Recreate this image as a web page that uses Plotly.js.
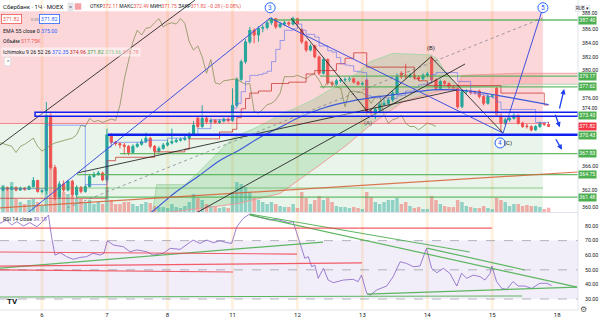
<!DOCTYPE html>
<html><head><meta charset="utf-8">
<script src="https://cdn.plot.ly/plotly-3.0.1.min.js"></script>
<style>html,body{margin:0;padding:0;background:#fff}#chart{width:600px;height:323px}</style>
</head><body><div id="chart"></div>
<script>
// ---------- DATA ----------
const firstIndex = -9; // first visible hourly candle, day "6" starts at 0
const open = [362.5,362.9,362.6,362.9,362.5,362.8,362.6,363.0,363.9,
362.3,362.4,373.5,365.8,361.5,363.4,362.5,363.8,361.8,362.9,362.3,363.0,364.5,364.8,365.0,
364.0,370.6,369.5,369.3,369.1,368.9,368.0,368.9,369.2,369.6,370.1,368.9,368.2,368.6,369.1,
369.4,369.6,369.8,369.9,370.1,370.6,373.0,371.8,373.0,372.5,372.7,372.4,372.6,372.9,372.7,
374.9,378.7,381.3,384.2,385.9,385.2,386.2,386.3,387.0,387.6,386.4,386.8,387.0,386.8,387.6,
386.0,384.2,383.0,383.6,382.0,379.6,381.6,378.2,378.0,378.5,378.6,378.7,378.8,378.3,378.0,
378.6,374.0,373.7,374.3,375.0,375.2,375.7,376.7,379.6,379.3,379.1,379.3,379.0,378.8,379.3,
381.8,378.6,377.4,378.4,378.1,377.6,377.4,374.7,376.9,377.0,376.8,377.0,376.2,375.2,376.2,
377.4,373.5,372.3,372.8,373.0,373.5,372.3,371.9,371.8,371.3,371.8,372.3,372.11];
const high = [363.1,363.0,363.1,363.0,363.0,362.9,363.2,364.4,364.0,
362.6,375.4,373.8,366.2,363.8,363.9,364.0,364.0,363.2,363.1,363.3,364.8,365.2,365.3,365.2,
371.5,370.8,369.7,369.5,369.4,369.1,369.2,369.5,370.0,370.9,370.3,369.1,368.9,369.4,369.8,
371.5,370.1,370.2,370.4,371.0,372.6,373.3,374.9,373.2,373.0,372.9,372.9,373.1,373.1,377.4,
379.0,381.6,384.6,386.4,386.2,386.5,386.7,387.3,387.8,387.7,387.1,387.3,387.2,387.9,387.7,
386.2,384.4,383.9,383.8,382.2,381.9,381.8,378.5,378.8,378.9,379.0,379.1,379.0,378.5,378.4,
378.8,374.3,374.6,375.3,375.8,376.0,377.0,379.6,379.9,381.0,379.6,379.5,379.3,379.6,379.8,
382.3,378.9,378.7,378.6,378.3,377.9,377.6,377.2,377.3,377.2,377.1,377.2,376.4,376.5,376.5,
377.6,373.8,373.1,373.3,373.8,373.6,372.5,372.2,372.0,372.0,372.5,372.4,372.49];
const low = [362.3,362.4,362.5,362.3,362.4,362.4,362.5,362.9,362.1,
362.0,361.9,365.5,361.0,361.2,362.2,362.3,361.5,361.3,362.0,362.1,362.9,364.3,364.6,363.8,
363.7,369.2,369.0,368.6,367.7,367.6,367.8,368.7,369.0,369.4,368.6,367.9,368.0,368.4,368.9,
369.2,369.4,369.6,369.7,369.9,370.4,371.5,371.6,372.2,372.3,372.2,372.2,372.4,372.4,372.5,
374.7,378.4,381.0,383.9,384.0,384.2,385.6,386.0,386.7,386.1,386.2,386.5,386.5,386.6,386.7,
383.9,382.7,382.8,381.8,379.3,379.4,377.9,377.6,377.8,378.2,378.3,378.4,378.1,377.8,377.8,
373.5,373.3,372.9,374.0,374.8,374.9,375.4,376.5,378.8,378.8,378.9,378.7,378.5,378.6,379.0,
378.3,377.1,377.2,377.8,377.3,377.1,374.4,374.5,376.6,376.5,376.5,375.9,374.9,375.0,376.0,
373.2,371.0,372.0,372.5,372.8,372.1,371.6,371.5,371.1,371.2,371.6,371.9,371.75];
const close = [362.9,362.6,362.9,362.5,362.8,362.6,363.0,363.9,362.3,
362.4,373.5,365.8,361.5,363.4,362.5,363.8,361.8,362.9,362.3,363.0,364.5,364.8,365.0,364.0,
370.6,369.5,369.3,369.1,368.9,368.0,368.9,369.2,369.6,370.1,368.9,368.2,368.6,369.1,369.4,
369.6,369.8,369.9,370.1,370.6,372.0,371.8,373.0,372.5,372.7,372.4,372.6,372.9,372.7,374.9,
378.7,381.3,384.2,385.9,385.2,386.2,386.3,387.0,387.6,386.4,386.8,387.0,386.8,387.6,386.9,
384.2,383.0,383.6,382.0,379.6,381.6,378.2,378.0,378.5,378.6,378.7,378.8,378.3,378.0,378.1,
374.0,373.7,374.3,375.0,375.2,375.7,376.7,379.1,379.1,379.1,379.3,379.0,378.8,379.3,379.5,
378.6,377.4,378.4,378.1,377.6,377.4,374.7,376.9,377.0,376.8,376.8,376.2,375.2,376.2,376.3,
373.5,372.3,372.8,373.0,373.5,372.3,371.8,371.8,371.3,371.8,372.3,372.11,371.82];
const volumeK = [3240,2640,3600,1560,1200,960,1440,1560,1200,
720,10560,5760,5040,3000,2400,2160,1920,1560,1560,1200,1440,960,1200,960,
3000,1440,960,960,1200,1200,960,720,960,1200,1080,720,600,600,480,
960,600,480,720,1200,2160,1680,1440,960,720,600,480,600,480,2400,
3600,3360,3000,2400,1680,1440,1200,960,1200,960,720,600,600,960,480,
2400,1680,960,1440,1920,1440,1680,1200,720,600,600,480,600,480,360,
2400,1800,1200,960,1200,1440,1440,1680,960,1200,720,480,600,360,360,
1920,1440,960,720,600,600,1440,1200,720,600,480,480,720,480,360,
1680,1440,1200,720,960,960,720,840,720,720,600,360,518];

const dayLabels = ['6','7','8','11','12','13','14','15','18'];
const dayStarts = [0,15,29,44,59,74,89,104,119];

// EMA 55
const emaIdx = [18,24.9,30.5,36.5,41,45.7,50,55,59.6,64,67.7,72,75.8,84,91.2,99,105.8,111,117];
const emaVal = [356.5,359.1,362.0,364.7,366.8,368.4,370.1,371.7,373.2,374.3,375.0,375.6,376.0,376.7,377.2,377.0,376.3,375.7,375.0];
// Ichimoku conversion (tenkan) and base (kijun) lines, step lines
const tenkanIdx = [-9.7,1,10,15,16,24,29,33,36,39,44,45,46,47,48,50,51,52,53,54,55,56,58,59,60,61,63,64,66,67,68,69,70,71,72,73,74,75,76,77,81,82,83,84,86,87,88,89,90,91,96,99,100,101,102,103,104,105,106,114,117];
const tenkanVal = [362.7,372.0,363.3,368.8,369.5,369.8,370.1,370.6,371.5,372.8,374.5,375.2,376.9,378.4,379.3,379.4,379.6,379.9,381.3,383.1,384.4,385.9,386.1,386.8,385.9,385.3,384.9,383.6,382.9,382.7,381.9,381.0,380.8,380.7,379.9,379.8,379.7,376.3,376.2,376.0,375.9,376.3,376.4,377.0,377.5,377.9,378.0,378.2,379.4,379.7,378.4,376.7,376.6,376.5,376.4,376.2,376.0,375.4,374.3,372.4,372.35];
const kijunIdx = [-9.7,15,17,26,33,34,41,44,45,46,47,48,50,53,57,61,63,68,70,72,75,86,87,89,106,116,117];
const kijunVal = [361.3,366.8,367.3,368.1,368.5,370.0,371.0,371.4,373.1,374.4,375.9,376.7,377.0,378.1,378.3,379.5,380.0,381.0,381.8,382.6,380.5,378.8,378.5,377.8,376.7,374.96,374.96];
// leading spans (already displaced forward)
const spanAIdx = [16,25.5,26.5,33,36,39.5,44,50,55,62,66,70.4,75.8,81,89.6,91.2,93.5,95.8,100,110,124];
const spanAVal = [359.0,359.0,363.3,363.3,365.0,367.2,370.1,371.8,373.5,375.5,377.0,378.4,381.3,382.5,382.3,381.8,379.5,377.6,377.6,378.0,378.0];
const spanBIdx = [16,30,45,55,64.2,70.4,75.8,83.5,91.2,95.8,97,110,124];
const spanBVal = [358.5,359.3,360.5,362.0,366.2,369.1,372.0,375.5,376.9,377.4,379.3,379.6,379.6];
const kumoTwist = 95.8;
const laggingShift = 26;

// RSI 14
const rsiIdx = [-9.7,-8.2,-7.0,-5.8,-4.3,-2.8,-1.2,-0.1,1.5,2.2,3.0,4.2,5.7,7.2,8.8,10.3,11.8,13.4,14.3,15.1,16.5,18.8,20.3,21.9,24.2,25.7,28.0,29.6,31.9,33.4,34.9,36.5,38.0,39.6,41.1,42.7,43.8,45.0,46.5,48.0,49.6,51.1,52.7,54.2,55.7,56.9,58.0,58.8,59.6,60.7,61.5,62.3,63.0,63.8,65.0,66.1,67.3,69.6,71.9,73.0,73.8,75.0,75.8,77.3,79.6,81.1,82.7,84.2,85.8,87.3,88.5,88.8,90.0,91.2,92.7,94.2,95.8,96.9,98.1,99.6,101.2,102.3,103.5,103.9,105.0,106.2,107.3,108.8,110.0,111.5,113.1,114.2,115.0,116.6,117.7];
const rsiVal = [81.8,84,80.7,83,80,82.3,79.5,82.3,87.5,72.7,60.1,61.7,59,57.2,58.5,59,61.3,60.1,61.3,69.9,67,65.8,62.4,63.6,62.4,60.1,61.3,64.7,64,67,70.4,68.1,70.4,68.6,69.9,68.6,68.1,79.5,85.3,88.2,86.4,85.3,84.1,84.6,83.6,82.3,83,75,68.1,57.9,59,52.1,53.3,44.2,51,43,41.2,43,43.5,41.9,46.4,33.9,32.7,36.2,38.9,45.3,55.5,54.4,52.1,52.6,63.6,64.7,51,48,51,47.6,38.9,47.6,44.2,46.4,45.3,43,47.6,52.6,41.9,37.3,36.6,41.9,38.9,38.9,37.3,39.6,40.8,40.8,39.18];
const rsiBands = [70,50,30];

// drawings on the price pane
const zoneEntry = 372.25, zoneTop = 388.7, zoneEnd = 115.7;
const greenLevels = [387.40,379.17,377.62,367.83,364.75,361.48];
const greenLevelFrom = [52.2,64.2,64.2,18,8.1,8.1];
const faintLevel = 362.8;
const boxLow = 373.3, boxHigh = 373.9, boxFrom = -1.6;
const blueLevel = 370.6, blueLevelFrom = 15.2;
const blackFrom = [[-9.7,369.1],[75.3,373.9],[57.5,387.7],[89.8,382.0],[34.9,358.9],[8.1,365.0]];
const blackTo   = [[35.3,390.3],[89.8,382.0],[75.3,373.9],[106.5,370.85],[97.7,380.96],[95.8,377.15]];
const waveFrom = [[-3.9,358.85],[52.7,387.7],[106.5,370.85]];
const waveTo   = [[52.7,387.7],[106.5,370.85],[115.7,389.2]];
const dottedLine = [[5.8,359.9],[115.7,387.7]];
const orangeLine = [[-9.7,359.9],[123.8,365.15]];
const waveMarks = [['3',52.7,389.2],['5',115.7,389.2],['4',105.8,369.4]];
// drawings on the RSI pane
const rsiGreenFrom = [[48.0,88.2],[48.0,87.5],[88.9,64.9],[-9.7,51.2],[75.1,33.4],[-9.7,31.4]];
const rsiGreenTo   = [[98.8,62.2],[123.6,38.2],[111.5,49.9],[64.9,69.0],[123.6,38.2],[110.9,32.1]];
const rsiRedFrom = [[-9.7,78.6],[-9.7,62.2],[-9.7,52.6],[-9.7,49.9]];
const rsiRedTo   = [[103.9,78.6],[58.9,60.8],[73.9,54.7],[44.1,48.5]];

// axis labels
const priceTicks = [386,384,382,380,376,366,360];
const priceTicksNearBadge = [388,374,362];
const rsiTicks = [80,70,60,50,40,30];
const priceBadges = [[387.40,'#4caf50'],[379.17,'#4caf50'],[377.62,'#4caf50'],[373.43,'#4caf50'],[371.82,'#f23645'],[370.43,'#4caf50'],[367.83,'#4caf50'],[364.75,'#4caf50'],[361.48,'#4caf50']];

// ---------- BUILD ----------
const idx = open.map((_, k) => k + firstIndex);
const X0 = -9.7, X1 = 123.8;
const W = 578, H = 310;
const px = x => x / W, py = y => 1 - y / H;

const GREEN = '#26a69a', RED = '#ef5350';
const traces = [];

// cloud fills (base axis y)
function seg(ix, iv, fn) { const a = [], b = []; ix.forEach((x, k) => { if (fn(x)) { a.push(x); b.push(iv[k]); } }); return [a, b]; }
const [gBx, gBy] = seg(spanBIdx, spanBVal, x => x <= kumoTwist);
const [gAx, gAy] = seg(spanAIdx, spanAVal, x => x <= kumoTwist);
const [rBx, rBy] = seg(spanBIdx, spanBVal, x => x >= kumoTwist);
const [rAx, rAy] = seg(spanAIdx, spanAVal, x => x >= kumoTwist);
traces.push({x: gBx, y: gBy, mode: 'lines', line: {width: 0}, yaxis: 'y', hoverinfo: 'skip'});
traces.push({x: gAx, y: gAy, mode: 'lines', line: {width: 0}, fill: 'tonexty', fillcolor: 'rgba(76,175,80,0.2)', yaxis: 'y', hoverinfo: 'skip'});
traces.push({x: rBx, y: rBy, mode: 'lines', line: {width: 0}, yaxis: 'y', hoverinfo: 'skip'});
traces.push({x: rAx, y: rAy, mode: 'lines', line: {width: 0}, fill: 'tonexty', fillcolor: 'rgba(242,54,69,0.18)', yaxis: 'y', hoverinfo: 'skip'});

// volume (overlay axis y3)
traces.push({type: 'bar', x: idx, y: volumeK, yaxis: 'y3', width: 0.8,
  marker: {color: idx.map((_, k) => close[k] >= open[k] ? 'rgba(38,166,154,0.45)' : 'rgba(239,83,80,0.45)'), line: {width: 0}}});

// indicator lines + candles (overlay axis y4)
traces.push({x: spanAIdx, y: spanAVal, mode: 'lines', line: {color: 'rgba(165,214,167,0.9)', width: 1}, yaxis: 'y4'});
traces.push({x: spanBIdx, y: spanBVal, mode: 'lines', line: {color: 'rgba(239,154,154,0.95)', width: 1}, yaxis: 'y4'});
traces.push({x: idx.map(v => v - laggingShift), y: close, mode: 'lines', line: {color: 'rgba(128,140,80,0.75)', width: 1}, yaxis: 'y4'});
traces.push({x: kijunIdx, y: kijunVal, mode: 'lines', line: {color: 'rgba(200,50,45,0.75)', width: 1, shape: 'hv'}, yaxis: 'y4'});
traces.push({x: tenkanIdx, y: tenkanVal, mode: 'lines', line: {color: 'rgba(90,110,240,0.6)', width: 1, shape: 'hv'}, yaxis: 'y4'});
traces.push({x: emaIdx, y: emaVal, mode: 'lines', line: {color: '#3f5ad8', width: 1.2, shape: 'spline'}, yaxis: 'y4'});
traces.push({type: 'candlestick', x: idx, open, high, low, close, yaxis: 'y4', whiskerwidth: 0,
  increasing: {line: {color: GREEN, width: 1}, fillcolor: GREEN},
  decreasing: {line: {color: RED, width: 1}, fillcolor: RED}});

// RSI
traces.push({x: rsiIdx, y: rsiVal, mode: 'lines', line: {color: 'rgba(126,87,194,0.75)', width: 1}, yaxis: 'y2'});

// ---------- SHAPES ----------
const shapes = [];
// day separators
dayStarts.slice(0, 8).forEach(d => shapes.push({type: 'rect', xref: 'x', yref: 'paper', x0: d - 0.35, x1: d + 0.35, y0: 0, y1: 1,
  fillcolor: 'rgba(255,152,0,0.13)', line: {width: 0}, layer: 'below'}));
// position zones
shapes.push({type: 'rect', xref: 'x', yref: 'y', x0: X0, x1: zoneEnd, y0: zoneEntry, y1: zoneTop, fillcolor: 'rgba(242,54,69,0.2)', line: {width: 0}, layer: 'below'});
shapes.push({type: 'rect', xref: 'x', yref: 'y', x0: X0, x1: zoneEnd, y0: 355, y1: zoneEntry, fillcolor: 'rgba(76,175,80,0.12)', line: {width: 0}, layer: 'below'});
shapes.push({type: 'line', xref: 'x', yref: 'y', x0: X0, x1: zoneEnd, y0: zoneEntry, y1: zoneEntry, line: {color: 'rgba(242,54,69,0.55)', width: 1}});
// green levels
greenLevels.forEach((v, k) => shapes.push({type: 'line', xref: 'x', yref: 'y', x0: greenLevelFrom[k], x1: X1, y0: v, y1: v, line: {color: 'rgba(76,175,80,0.85)', width: 1.3}}));
shapes.push({type: 'line', xref: 'x', yref: 'y', x0: X0, x1: zoneEnd, y0: faintLevel, y1: faintLevel, line: {color: 'rgba(76,175,80,0.6)', width: 1}});
// orange and dotted diagonal
shapes.push({type: 'line', xref: 'x', yref: 'y', x0: orangeLine[0][0], y0: orangeLine[0][1], x1: orangeLine[1][0], y1: orangeLine[1][1], line: {color: 'rgba(215,95,55,0.85)', width: 1.2}});
shapes.push({type: 'line', xref: 'x', yref: 'y', x0: dottedLine[0][0], y0: dottedLine[0][1], x1: dottedLine[1][0], y1: dottedLine[1][1], line: {color: 'rgba(120,123,134,0.7)', width: 1, dash: 'dot'}});
// black trend lines
blackFrom.forEach((p, k) => shapes.push({type: 'line', xref: 'x', yref: 'y', x0: p[0], y0: p[1], x1: blackTo[k][0], y1: blackTo[k][1], line: {color: 'rgba(30,30,30,0.85)', width: 1}}));
// wave lines
waveFrom.forEach((p, k) => shapes.push({type: 'line', xref: 'x', yref: 'y', x0: p[0], y0: p[1], x1: waveTo[k][0], y1: waveTo[k][1], line: {color: '#3f51e0', width: 1}}));
// blue box and level
shapes.push({type: 'rect', xref: 'x', yref: 'y', x0: boxFrom, x1: X1, y0: boxLow, y1: boxHigh, fillcolor: 'rgba(255,255,255,0.35)', line: {color: '#1020f0', width: 1.5}});
shapes.push({type: 'line', xref: 'x', yref: 'y', x0: blueLevelFrom, x1: X1, y0: blueLevel, y1: blueLevel, line: {color: '#1020f0', width: 2.5}});
// wave circles
waveMarks.forEach(m => shapes.push({type: 'circle', xref: 'x', yref: 'y', xsizemode: 'pixel', ysizemode: 'pixel', xanchor: m[1], yanchor: m[2],
  x0: -5, x1: 5, y0: -5, y1: 5, fillcolor: 'rgba(255,255,255,0.9)', line: {color: '#2962ff', width: 1}}));
// RSI band and guides
shapes.push({type: 'rect', xref: 'x', yref: 'y2', x0: X0, x1: X1, y0: 30, y1: 70, fillcolor: 'rgba(126,87,194,0.1)', line: {width: 0}, layer: 'below'});
rsiBands.forEach(v => shapes.push({type: 'line', xref: 'x', yref: 'y2', x0: X0, x1: X1, y0: v, y1: v, line: {color: 'rgba(120,123,134,0.55)', width: 1, dash: 'dash'}, layer: 'below'}));
rsiGreenFrom.forEach((p, k) => shapes.push({type: 'line', xref: 'x', yref: 'y2', x0: p[0], y0: p[1], x1: rsiGreenTo[k][0], y1: rsiGreenTo[k][1], line: {color: 'rgba(76,175,80,0.9)', width: 1.2}}));
rsiRedFrom.forEach((p, k) => shapes.push({type: 'line', xref: 'x', yref: 'y2', x0: p[0], y0: p[1], x1: rsiRedTo[k][0], y1: rsiRedTo[k][1], line: {color: 'rgba(242,54,69,0.8)', width: 1.2}}));
// pane separators
shapes.push({type: 'line', xref: 'paper', yref: 'paper', x0: 0, x1: 1, y0: py(212.5), y1: py(212.5), line: {color: '#e0e3eb', width: 1}});
shapes.push({type: 'line', xref: 'paper', yref: 'paper', x0: 0, x1: 1, y0: 0, y1: 0, line: {color: '#e0e3eb', width: 1}});
shapes.push({type: 'line', xref: 'paper', yref: 'paper', x0: 1, x1: 1, y0: 0, y1: 1, line: {color: '#e0e3eb', width: 1}});

// ---------- ANNOTATIONS ----------
const ann = [];
function txt(text, x, y, size, color, extra) {
  ann.push(Object.assign({xref: 'paper', yref: 'paper', x: px(x), y: py(y), xanchor: 'left', yanchor: 'middle', text, showarrow: false,
    font: {size, color}}, extra || {}));
}
const R = c => `<span style="color:${c}">`;
txt('Сбербанк · 1Ч · MOEX', 1, 6.5, 6, '#131722');
txt('=', 67, 6.5, 5.5, '#555', {bgcolor: '#e3e5ea', borderpad: 1});
shapes.push({type: 'rect', xref: 'paper', yref: 'paper', x0: px(75), x1: px(81), y0: py(9.5), y1: py(3.5), fillcolor: '#f7a1a8', line: {color: '#f2a0a8', width: 0.5}});
txt(`ОТКР${R('#ef5350')}372.11</span> МАКС${R('#ef5350')}372.49</span> МИН${R('#ef5350')}371.75</span> ЗАКР${R('#ef5350')}371.82</span> ${R('#ef5350')}−0.28 (−0.08%)</span>`, 88, 6.5, 5, '#131722');
txt('371.82', 1, 19.5, 5.5, '#ef5350', {bordercolor: '#ef5350', borderwidth: 0.8, borderpad: 1, bgcolor: '#fff'});
txt('0.00', 29.5, 19.5, 4, '#787b86', {borderpad: 0});
txt('371.82', 39, 19.5, 5.5, '#2962ff', {bordercolor: '#2962ff', borderwidth: 0.8, borderpad: 1, bgcolor: '#fff'});
txt(`EMA 55 close 0 ${R('#2962ff')}375.00</span>`, 1, 30.5, 5.3, '#131722');
txt(`Объём ${R('#ef5350')}517.75K</span>`, 1, 41, 5.3, '#131722');
txt(`Ichimoku 9 26 52 26 ${R('#2962ff')}372.35</span> ${R('#c62828')}374.96</span> ${R('#43a047')}371.82</span> ${R('#8fc992')}373.66</span> ${R('#ef8f8f')}376.78</span>`, 1, 51.5, 5.3, '#131722', {bgcolor: 'rgba(255,255,255,0.5)'});
txt('⌃', 4, 61, 5, '#131722', {bgcolor: '#fff', bordercolor: '#d1d4dc', borderwidth: 0.5, borderpad: 1});
txt(`RSI 14 close ${R('#7e57c2')}39.18</span>`, 1, 218.5, 5.3, '#131722');
txt('<b>TV</b>', 5, 301, 8, '#131722');
ann.push({xref: 'paper', yref: 'paper', x: px(590), y: py(4.5), text: 'RUB ▾', showarrow: false, font: {size: 4.5, color: '#131722'}, bordercolor: '#d1d4dc', borderwidth: 0.5, borderpad: 0.5});
ann.push({xref: 'paper', yref: 'paper', x: px(589), y: py(316), text: '⚙', showarrow: false, font: {size: 8, color: '#555', family: 'DejaVu Sans'}});
// wave labels
waveMarks.forEach(m => ann.push({xref: 'x', yref: 'y', x: m[1], y: m[2], text: m[0], showarrow: false, font: {size: 6.5, color: '#2962ff'}}));
ann.push({xref: 'x', yref: 'y', x: 105.8, y: 369.4, xshift: 8, text: '(C)', showarrow: false, font: {size: 6, color: '#131722'}});
ann.push({xref: 'x', yref: 'y', x: 75.3, y: 373.9, yshift: -11, text: '(A)', showarrow: false, font: {size: 6, color: '#555'}});
ann.push({xref: 'x', yref: 'y', x: 89.8, y: 382.0, yshift: 9, text: '(B)', showarrow: false, font: {size: 6, color: '#131722'}});
// arrows to the right
[[120.6,377.3,-5,21],[119.6,371.7,-5,-14],[120.1,368.4,-7,-12]].forEach(a => ann.push({xref: 'x', yref: 'y', x: a[0], y: a[1], ax: a[2], ay: a[3],
  text: '', showarrow: true, arrowhead: 2, arrowsize: 0.8, arrowwidth: 1.3, arrowcolor: '#1e3ff0'}));
// price ticks that sit next to a badge (nudged up like the reference)
priceTicksNearBadge.forEach(v => ann.push({xref: 'paper', yref: 'y', x: 1, xanchor: 'left', xshift: 3, y: v, yshift: v === 388 ? 2.5 : 3.5, yanchor: 'middle',
  text: v.toFixed(2), showarrow: false, font: {size: 5, color: '#131722'}, borderpad: 0}));
// price badges
priceBadges.forEach(b => ann.push({xref: 'paper', yref: 'y', x: 1, xanchor: 'left', y: b[0], yanchor: 'middle', text: b[0].toFixed(2), showarrow: false,
  bgcolor: b[1], font: {size: 5.2, color: '#fff'}, borderpad: 0.3, xshift: 0}));

const axisFont = {size: 5.3, color: '#131722'};
const layout = {
  width: 600, height: 323, margin: {l: 0, r: 22, t: 0, b: 13},
  paper_bgcolor: '#fff', plot_bgcolor: '#fff', showlegend: false,
  font: {family: 'Roboto, "Liberation Sans", sans-serif', size: 6, color: '#131722'},
  xaxis: {range: [X0, X1], anchor: 'y2', tickvals: dayStarts, ticktext: dayLabels, tickfont: {size: 6, color: '#131722'},
    showgrid: false, zeroline: false, showline: false, ticks: '', rangeslider: {visible: false}, fixedrange: true},
  yaxis: {domain: [1 - 212 / H, 1], range: [359.29, 390.33], side: 'right', tickvals: priceTicks, ticktext: priceTicks.map(v => v.toFixed(2)),
    tickfont: axisFont, showgrid: false, zeroline: false, ticks: '', ticklabelstandoff: 3},
  yaxis2: {domain: [0, 1 - 213 / H], range: [22.5, 88.9], side: 'right', tickvals: rsiTicks, ticktext: rsiTicks.map(v => v.toFixed(2)),
    tickfont: axisFont, showgrid: false, zeroline: false, ticks: '', ticklabelstandoff: 6},
  yaxis3: {overlaying: 'y', range: [0, 25440], visible: false, fixedrange: true},
  yaxis4: {overlaying: 'y', range: [359.29, 390.33], visible: false, fixedrange: true},
  shapes, annotations: ann
};
Plotly.newPlot('chart', traces, layout, {staticPlot: true, displayModeBar: false});
</script></body></html>
